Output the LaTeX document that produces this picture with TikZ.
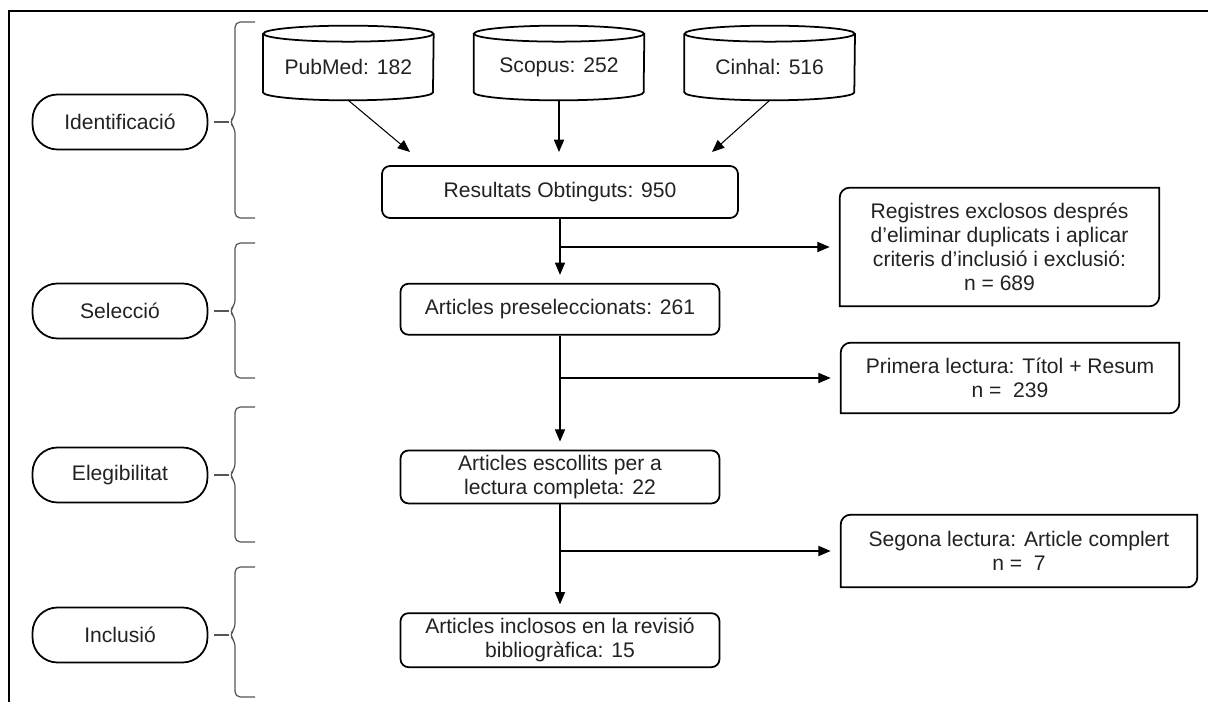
\documentclass[tikz,border=0pt]{standalone}
\usepackage{fontspec}
\setmainfont{Liberation Sans}
\usetikzlibrary{arrows.meta,positioning,calc}
\definecolor{inkgray}{RGB}{34,34,34}
\definecolor{bracegray}{RGB}{85,85,85}

\begin{document}
\begin{tikzpicture}[x=0.02cm, y=-0.02cm,
    every node/.style={font=\fontsize{12}{13.7}\selectfont, text=inkgray},
    node distance=1cm,
    mainbox/.style={rectangle, draw, line width=1pt, rounded corners=0.16cm, align=center, inner sep=0pt, minimum width=6.38cm},
    sidebox/.style={rectangle, align=center, inner sep=0pt},
    outline/.style={line width=1pt},
    stage/.style={rectangle, draw, line width=1pt, rounded corners=0.5cm, minimum width=3.5cm, minimum height=1.1cm, inner sep=0pt},
    db/.style={rectangle, minimum width=3.4cm, minimum height=1.32cm, inner sep=0pt},
    bracket/.style={bracegray, line width=0.7pt},
    arrow/.style={-{Triangle[length=7pt,width=5.8pt]}, line width=0.6pt, shorten >=0.16cm},
    frame/.style={line width=1.2pt}
  ]
  \useasboundingbox (0,0) rectangle (1208,702);
  \draw[frame] (9,702) -- (9,11) -- (1208,11);

  % Fases
  \node[stage] (ide) at (120,122) {Identificació};
  \node[stage] (sel) at (120,311) {Selecció};
  \node[stage] (ele) at (120,475) {Elegibilitat};
  \node[stage] (inl) at (120,635) {Inclusió};

  \coordinate (tipI) at (229,122);
  \coordinate (tipS) at (229,311);
  \coordinate (tipE) at (229,475);
  \coordinate (tipN) at (229,635);
  \draw[bracket, rounded corners=3pt] (255,22) -- (235,22) -- (235,116) -- (tipI) -- (235,128) -- (235,218) -- (255,218);
  \draw[bracket, rounded corners=3pt] (255,243) -- (235,243) -- (235,305) -- (tipS) -- (235,317) -- (235,378) -- (255,378);
  \draw[bracket, rounded corners=3pt] (255,407) -- (235,407) -- (235,469) -- (tipE) -- (235,481) -- (235,542) -- (255,542);
  \draw[bracket, rounded corners=3pt] (255,567) -- (235,567) -- (235,629) -- (tipN) -- (235,641) -- (235,697) -- (255,697);
  \draw[bracket, shorten <=0.12cm] (ide) -- (tipI);
  \draw[bracket, shorten <=0.12cm] (sel) -- (tipS);
  \draw[bracket, shorten <=0.12cm] (ele) -- (tipE);
  \draw[bracket, shorten <=0.12cm] (inl) -- (tipN);

  % Bases de dades
  \node[db] (sco) at (559,67) {Scopus: 252};
  \node[db, left=0.8cm of sco] (pub) {PubMed: 182};
  \node[db, right=0.8cm of sco] (cin) {Cinhal: 516};
  \draw[outline] (pub.north west) -- ($(pub.south west)+(0,-8)$) arc[start angle=180, end angle=360, x radius=1.7cm, y radius=0.16cm] -- (pub.north east);
  \draw[outline] (pub.north) ellipse [x radius=1.7cm, y radius=0.16cm];
  \draw[outline] (sco.north west) -- ($(sco.south west)+(0,-8)$) arc[start angle=180, end angle=360, x radius=1.7cm, y radius=0.16cm] -- (sco.north east);
  \draw[outline] (sco.north) ellipse [x radius=1.7cm, y radius=0.16cm];
  \draw[outline] (cin.north west) -- ($(cin.south west)+(0,-8)$) arc[start angle=180, end angle=360, x radius=1.7cm, y radius=0.16cm] -- (cin.north east);
  \draw[outline] (cin.north) ellipse [x radius=1.7cm, y radius=0.16cm];

  % Columna principal
  \node[mainbox, minimum width=7.12cm, minimum height=1.04cm] (res) at (560,192) {Resultats Obtinguts: 950};
  \node[mainbox, minimum height=1.02cm, below=1.28cm of res] (pre) {Articles preseleccionats: 261};
  \node[mainbox, minimum height=1.06cm, below=2.28cm of pre] (esc) {Articles escollits per a\\lectura completa: 22};
  \node[mainbox, minimum height=1.08cm, below=2.16cm of esc] (inc) {Articles inclosos en la revisió\\bibliogràfica: 15};

  % Exclosos
  \node[sidebox, minimum width=6.38cm, minimum height=2.36cm] (reg) at (999.5,247) {Registres exclosos després\\d’eliminar duplicats i aplicar\\criteris d’inclusió i exclusió:\\n = 689};
  \node[sidebox, minimum width=6.76cm, minimum height=1.4cm] (pri) at (1010,378) {Primera lectura: Títol + Resum\\n =\ \ 239};
  \node[sidebox, minimum width=7.12cm, minimum height=1.44cm] (seg) at (1019,551) {Segona lectura: Article complert\\n =\ \ 7};
  \draw[outline] (reg.north) [rounded corners=0.2cm] -- (reg.north west) [sharp corners] -- (reg.south west) [rounded corners=0.2cm] -- (reg.south east) [sharp corners] -- (reg.north east) -- cycle;
  \draw[outline] (pri.north) [rounded corners=0.2cm] -- (pri.north west) [sharp corners] -- (pri.south west) [rounded corners=0.2cm] -- (pri.south east) [sharp corners] -- (pri.north east) -- cycle;
  \draw[outline] (seg.north) [rounded corners=0.2cm] -- (seg.north west) [sharp corners] -- (seg.south west) [rounded corners=0.2cm] -- (seg.south east) [sharp corners] -- (seg.north east) -- cycle;

  % Fletxes
  \coordinate (inP) at (410,152);
  \coordinate (inS) at (559,152);
  \coordinate (inC) at (712,152);
  \draw[arrow, shorten >=0pt] (pub.south) -- (inP);
  \draw[arrow, shorten >=0pt] (sco.south) -- (inS);
  \draw[arrow, shorten >=0pt] (cin.south) -- (inC);
  \draw[arrow] (res) -- (pre);
  \draw[arrow] (pre) -- (esc);
  \draw[arrow] (esc) -- (inc);
  \draw[arrow, shorten >=0.2cm] (res.south |- reg.west) -- (reg.west);
  \draw[arrow, shorten >=0.2cm] (pre.south |- pri.west) -- (pri.west);
  \draw[arrow, shorten >=0.2cm] (esc.south |- seg.west) -- (seg.west);
\end{tikzpicture}
\end{document}
